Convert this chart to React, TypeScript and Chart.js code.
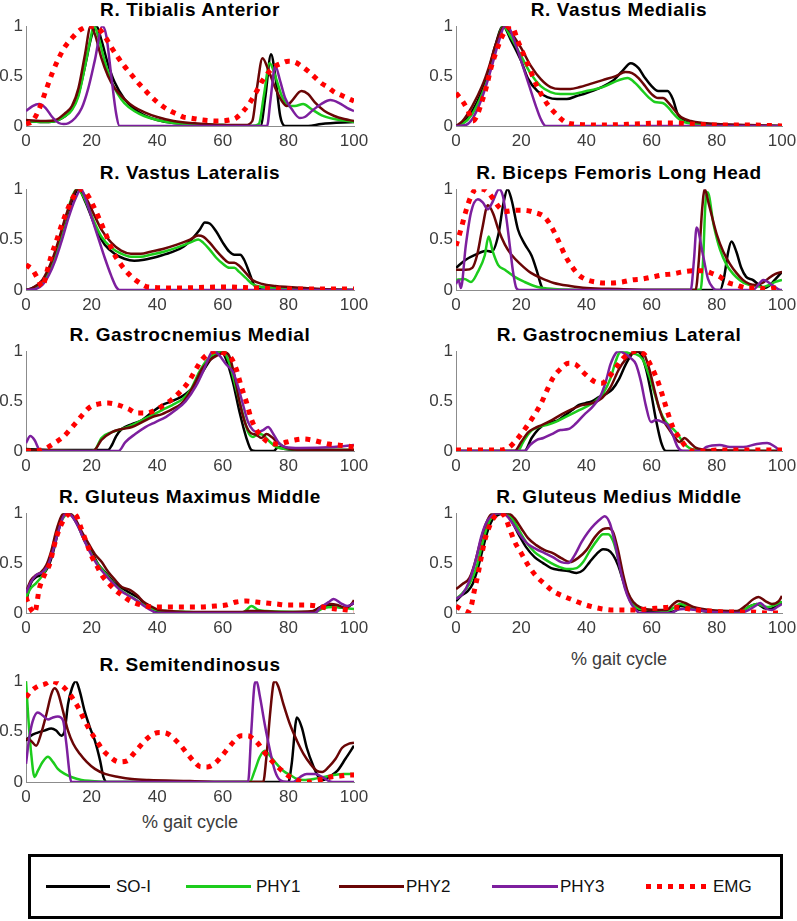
import { useEffect, useRef } from "react";
import { Chart, registerables } from "chart.js";

Chart.register(...registerables);

type Pt = [number, number];

// axis ticks + series names
const X_TICKS = [0, 20, 40, 60, 80, 100];
const Y_TICKS = [0, 0.5, 1];
const SERIES_NAMES = ["SO-I", "PHY1", "PHY2", "PHY3", "EMG"];
const SERIES_COLORS = ["#000000", "#1ccc1c", "#6a0606", "#7d1f9e", "#ff0000"];

// R. Tibialis Anterior
const TA_SOI: Pt[] = [[0,0.05],[6,0.04],[9,0.05],[12,0.1],[14,0.17],[16,0.32],[18,0.6],[20,0.9],[21.5,1],[23,0.86],[25,0.62],[27,0.44],[30,0.27],[33,0.17],[36,0.11],[40,0.06],[45,0.03],[50,0.02],[60,0.01],[68,0],[71.5,0],[73,0.3],[74.7,0.72],[76,0.5],[77.5,0.1],[79,0],[86,0],[90,0.02],[100,0.04]];
const TA_PHY1: Pt[] = [[0,0.05],[6,0.04],[9,0.05],[12,0.1],[14,0.16],[16,0.3],[18,0.6],[19.5,0.85],[20.7,1],[22,0.9],[24,0.65],[26,0.45],[28,0.32],[30,0.23],[33,0.15],[36,0.1],[40,0.06],[45,0.03],[50,0.02],[60,0.01],[69,0],[71,0.02],[72.5,0.3],[74.3,0.63],[76,0.5],[78,0.3],[80,0.2],[82,0.2],[84.5,0.22],[87,0.17],[90,0.11],[94,0.07],[100,0.04]];
const TA_PHY2: Pt[] = [[0,0.06],[6,0.05],[9,0.06],[12,0.13],[14,0.2],[16,0.38],[18,0.72],[19.7,1],[21,0.92],[23,0.68],[25,0.5],[27,0.38],[30,0.27],[33,0.19],[36,0.14],[40,0.09],[45,0.05],[50,0.03],[55,0.02],[60,0.01],[67,0.01],[69,0.05],[70.5,0.4],[72.1,0.68],[74,0.55],[76,0.38],[78,0.25],[79.5,0.2],[81,0.25],[84,0.35],[86,0.32],[88,0.24],[91,0.15],[94,0.1],[97,0.07],[100,0.05]];
const TA_PHY3: Pt[] = [[0,0.15],[2,0.2],[4,0.22],[6,0.18],[8,0.09],[10,0.03],[11.5,0.02],[13,0.03],[15,0.08],[17,0.18],[19,0.38],[21,0.66],[23.3,1],[24.5,0.9],[26,0.5],[27.5,0.12],[28.5,0],[73.5,0],[74.5,0.25],[76,0.6],[77.5,0.45],[79,0.28],[81,0.17],[83.5,0.08],[85,0.09],[87.5,0.16],[90,0.22],[92.8,0.26],[95.5,0.23],[98,0.18],[100,0.15]];
const TA_EMG: Pt[] = [[0,0.02],[2,0.05],[4,0.17],[6,0.35],[8,0.53],[10,0.68],[12,0.8],[14,0.88],[16,0.95],[18,0.99],[20,1],[22,0.98],[24,0.9],[26,0.79],[28,0.69],[30,0.6],[32,0.52],[34,0.44],[36,0.37],[38,0.3],[40,0.24],[42,0.19],[44,0.15],[46,0.12],[48,0.09],[50,0.08],[54,0.06],[58,0.05],[62,0.06],[64,0.08],[66,0.14],[68,0.22],[70,0.33],[72,0.45],[74,0.54],[76,0.6],[78,0.63],[80,0.65],[82,0.64],[84,0.6],[86,0.55],[88,0.49],[90,0.43],[92,0.39],[94,0.34],[96,0.31],[98,0.28],[100,0.25]];

// R. Vastus Medialis
const VM_SOI: Pt[] = [[0,0],[2,0.03],[5,0.15],[8,0.35],[10,0.55],[12,0.8],[14.4,1],[17,0.85],[20,0.65],[22,0.48],[25,0.35],[28,0.29],[31,0.27],[34,0.27],[37,0.3],[40,0.33],[44,0.38],[48,0.45],[51,0.55],[53.6,0.63],[56,0.58],[58,0.48],[60,0.4],[62,0.35],[64.9,0.35],[66.5,0.27],[68,0.12],[70,0.05],[75,0.02],[80,0.01],[100,0]];
const VM_PHY1: Pt[] = [[0,0],[2,0.02],[5,0.12],[8,0.32],[10,0.5],[12,0.75],[14.5,1],[17,0.88],[20,0.7],[23,0.52],[26,0.4],[29,0.34],[32,0.32],[35,0.32],[40,0.35],[45,0.39],[50,0.46],[52.6,0.48],[55,0.43],[57,0.36],[59,0.29],[61,0.24],[63.4,0.23],[65,0.19],[66.5,0.13],[68,0.08],[70,0.04],[75,0.02],[100,0]];
const VM_PHY2: Pt[] = [[0,0],[2,0.05],[5,0.2],[8,0.4],[10,0.58],[12,0.8],[14,0.97],[15,1],[17,0.93],[20,0.78],[23,0.6],[26,0.47],[29,0.39],[32,0.37],[35,0.37],[38,0.39],[41,0.42],[45,0.46],[49,0.5],[52,0.54],[54,0.53],[56,0.48],[58,0.4],[60,0.32],[62,0.28],[63.5,0.28],[65,0.24],[67,0.16],[69,0.09],[72,0.05],[76,0.03],[80,0.02],[90,0.01],[100,0]];
const VM_PHY3: Pt[] = [[0,0],[3,0.01],[5,0.07],[7,0.2],[9,0.38],[11,0.6],[13,0.83],[15,1],[16.5,0.97],[18.5,0.8],[20.5,0.6],[22.5,0.4],[24.5,0.2],[26,0.07],[27.5,0],[100,0]];
const VM_EMG: Pt[] = [[0,0.33],[2,0.25],[3.6,0.16],[5.2,0.05],[6.4,0.1],[7.7,0.22],[9.3,0.39],[10.8,0.59],[12.4,0.75],[13.9,0.88],[15.5,0.97],[17,1],[19,0.85],[22,0.62],[25,0.39],[28,0.22],[31,0.11],[33.5,0.04],[36,0.02],[45,0.01],[55,0.02],[62,0.03],[68,0.03],[72,0.02],[80,0.01],[90,0.01],[100,0]];

// R. Vastus Lateralis
const VL_SOI: Pt[] = [[0,0],[2,0.02],[5,0.08],[8,0.25],[10,0.45],[12,0.68],[14,0.88],[16,1],[18,0.88],[20,0.72],[22,0.56],[24,0.45],[27,0.36],[30,0.31],[33,0.29],[36,0.3],[40,0.33],[44,0.37],[48,0.43],[51,0.52],[53,0.6],[54.5,0.67],[56,0.66],[58,0.58],[60,0.47],[62,0.38],[63.5,0.35],[65.3,0.35],[66.5,0.3],[68,0.18],[69.5,0.05],[71,0.01],[75,0],[100,0]];
const VL_PHY1: Pt[] = [[0,0],[2,0.01],[5,0.07],[8,0.25],[10,0.45],[12,0.7],[14,0.92],[15.5,1],[17,0.96],[19,0.82],[21,0.66],[23,0.53],[26,0.42],[29,0.36],[32,0.33],[35,0.33],[38,0.35],[42,0.38],[46,0.42],[50,0.47],[52.5,0.5],[54,0.47],[56,0.4],[58,0.32],[60,0.26],[62,0.22],[63.5,0.22],[65,0.18],[67,0.12],[69,0.06],[72,0.03],[76,0.02],[80,0.01],[100,0]];
const VL_PHY2: Pt[] = [[0,0],[2,0.02],[5,0.1],[8,0.3],[10,0.5],[12,0.72],[14,0.9],[15.5,1],[17,0.98],[19,0.87],[21,0.73],[23,0.6],[26,0.47],[29,0.39],[32,0.36],[35,0.36],[38,0.38],[42,0.41],[46,0.45],[50,0.5],[52.5,0.54],[54,0.53],[56,0.47],[58,0.39],[60,0.32],[62,0.27],[63.5,0.27],[65,0.24],[67,0.17],[69,0.1],[72,0.06],[76,0.04],[80,0.03],[85,0.02],[90,0.01],[100,0]];
const VL_PHY3: Pt[] = [[0,0],[3,0.01],[5,0.05],[7,0.15],[9,0.3],[11,0.5],[13,0.72],[15,0.9],[16.8,1],[18,0.92],[20,0.72],[22,0.52],[24,0.32],[26,0.14],[27.5,0.03],[28.5,0],[100,0]];
const VL_EMG: Pt[] = [[0,0.25],[2,0.2],[3.6,0.11],[5,0.03],[6.2,0.16],[7.7,0.34],[9.3,0.49],[10.8,0.64],[12.3,0.77],[13.9,0.89],[15.4,0.97],[16.8,1],[18.2,0.97],[20.3,0.85],[22.4,0.7],[24.5,0.54],[26.5,0.38],[29,0.25],[31.6,0.15],[34.2,0.08],[37.2,0.03],[45,0.02],[60,0.03],[70,0.02],[80,0.01],[100,0.01]];

// R. Biceps Femoris Long Head
const BF_SOI: Pt[] = [[0,0.22],[3,0.3],[6,0.35],[9.3,0.39],[11,0.38],[13,0.55],[14.5,0.85],[15.8,1],[17,0.9],[19,0.6],[21,0.46],[23.2,0.34],[24.7,0.2],[26.3,0.03],[27,0],[81,0],[82.2,0.12],[83.5,0.38],[84.5,0.48],[86,0.38],[87.5,0.22],[89,0.13],[91,0.1],[93,0.05],[94.5,0.02],[96,0.04],[97.5,0.09],[100,0.18]];
const BF_PHY1: Pt[] = [[0,0.1],[2.6,0.11],[4.6,0.08],[6.7,0.18],[8.8,0.34],[10,0.53],[11.3,0.38],[12.9,0.25],[15,0.2],[18,0.13],[21,0.08],[25,0.03],[30,0.01],[40,0],[75,0],[75.8,0.3],[76.5,0.85],[77.2,0.97],[79,0.65],[81,0.4],[83,0.25],[85,0.16],[87,0.1],[89,0.06],[92,0.04],[94,0.03],[96,0.05],[98,0.08],[100,0.1]];
const BF_PHY2: Pt[] = [[0,0.2],[3,0.2],[5,0.22],[6.5,0.35],[8,0.6],[9.8,0.84],[11.5,0.75],[13,0.6],[15,0.45],[17,0.35],[20,0.25],[23,0.17],[26,0.12],[30,0.07],[35,0.04],[40,0.02],[50,0.01],[60,0],[73.5,0],[74.5,0.3],[75.5,0.8],[76.3,1],[77.5,0.86],[80,0.55],[82,0.38],[84,0.26],[86,0.17],[88,0.1],[90,0.06],[92,0.05],[94,0.07],[96,0.12],[98,0.16],[100,0.18]];
const BF_PHY3: Pt[] = [[0,0.06],[0.8,0.1],[1.5,0.02],[3,0.44],[4.6,0.77],[6.7,0.9],[8.2,0.87],[9.8,0.8],[11.3,0.88],[13.2,1],[14.4,0.93],[15.5,0.7],[16.5,0.44],[17.5,0.18],[18.5,0.02],[19.5,0],[72,0],[73,0.3],[73.8,0.62],[75.8,0.34],[77.3,0.11],[78.9,0.02],[80,0],[91,0],[94.3,0.1],[97,0.05],[99.5,0],[100,0]];
const BF_EMG: Pt[] = [[0,0.44],[1.5,0.6],[3.1,0.79],[4.6,0.93],[6.2,1],[8.2,1],[9.8,0.97],[11.5,0.9],[13,0.83],[15,0.78],[18,0.79],[21,0.79],[24,0.77],[27.3,0.72],[29.4,0.62],[31.4,0.49],[33.5,0.34],[35.6,0.23],[37.6,0.15],[40.2,0.1],[42.8,0.08],[45.4,0.07],[48,0.07],[51,0.08],[54,0.1],[57.2,0.11],[60.3,0.13],[63.4,0.15],[66.5,0.16],[69.6,0.18],[72.7,0.19],[75.8,0.19],[78.9,0.16],[81,0.13],[83,0.08],[86,0.05],[89.2,0.02],[92.3,0.02],[95.4,0.01],[98.5,0.02],[100,0.02]];

// R. Gastrocnemius Medial
const GM_SOI: Pt[] = [[0,0.02],[10,0.01],[25,0.01],[26.2,0.06],[27.5,0.15],[29.2,0.22],[32.3,0.27],[35.4,0.31],[38.5,0.39],[41.5,0.46],[44.6,0.5],[47.7,0.55],[49.7,0.6],[51.8,0.67],[53.8,0.79],[55.9,0.9],[57.9,0.98],[59.5,1],[61,0.92],[63.1,0.69],[65.1,0.39],[67.2,0.13],[68.7,0.01],[70,0],[75.4,0],[77,0.04],[79,0.02],[85,0.01],[100,0.01]];
const GM_PHY1: Pt[] = [[0,0.01],[20,0],[21,0.01],[23,0.13],[26.2,0.19],[29.2,0.22],[32.3,0.26],[35.4,0.31],[38.5,0.36],[41.5,0.41],[44.6,0.46],[47.7,0.52],[50.3,0.62],[52.8,0.79],[55.4,0.92],[57.9,0.98],[60,1],[62,0.88],[64.1,0.62],[66.2,0.36],[67.7,0.19],[69.2,0.14],[70.8,0.17],[72.3,0.16],[74.4,0.09],[76.4,0.04],[80,0.02],[100,0.01]];
const GM_PHY2: Pt[] = [[0,0.01],[20,0],[21,0.01],[23,0.11],[26.2,0.19],[29.2,0.22],[32.3,0.24],[35.4,0.29],[38.5,0.34],[41.5,0.37],[44.6,0.42],[47.2,0.47],[49.2,0.55],[51.8,0.7],[53.8,0.83],[56.4,0.92],[58.5,0.96],[60.5,0.99],[62,0.95],[63.6,0.75],[65.1,0.49],[66.7,0.29],[68.2,0.19],[70.3,0.16],[71.8,0.13],[73.3,0.17],[74.9,0.14],[76.9,0.08],[79.5,0.03],[85,0.01],[100,0.01]];
const GM_PHY3: Pt[] = [[0,0.08],[1.3,0.15],[2.6,0.11],[4.1,0.01],[5,0],[28.2,0],[30.3,0.09],[33.3,0.17],[36.4,0.24],[39.5,0.29],[42.6,0.34],[45.6,0.41],[48.7,0.5],[51.8,0.65],[54.3,0.82],[56.4,0.98],[57.4,1],[58.9,0.96],[61,0.87],[63.1,0.79],[64.6,0.65],[66.2,0.46],[67.7,0.29],[69.2,0.21],[70.8,0.19],[72.3,0.21],[73.8,0.24],[75.4,0.17],[76.9,0.09],[79,0.04],[83.6,0.03],[93.8,0.04],[100,0.06]];
const GM_EMG: Pt[] = [[0,0],[2.6,0],[5.6,0.02],[8.7,0.08],[11.3,0.14],[13.3,0.21],[15.4,0.29],[17.4,0.37],[19.5,0.44],[22,0.47],[25.1,0.48],[28.2,0.46],[31.3,0.42],[33.8,0.38],[36.4,0.38],[39.5,0.41],[42,0.46],[44.6,0.52],[47.2,0.6],[49.7,0.7],[51.8,0.82],[53.8,0.92],[55.9,0.98],[57.9,1],[60.5,0.98],[62.6,0.93],[64.1,0.82],[65.6,0.65],[67.2,0.49],[68.7,0.32],[70.3,0.21],[72.3,0.13],[74.4,0.08],[76.9,0.07],[79.5,0.09],[82,0.11],[84.6,0.12],[87.2,0.11],[89.7,0.09],[92.3,0.07],[94.9,0.06],[98,0.05],[100,0.04]];

// R. Gastrocnemius Lateral
const GL_SOI: Pt[] = [[0,0],[21,0],[23.2,0.13],[25.3,0.22],[27.3,0.27],[29.4,0.29],[31.4,0.31],[33.5,0.36],[35.6,0.41],[37.6,0.46],[39.7,0.48],[41.8,0.5],[43.8,0.54],[45.9,0.57],[48,0.62],[50,0.72],[52.1,0.87],[54.2,0.98],[55.2,1],[56.7,0.97],[58.3,0.82],[59.8,0.59],[61.3,0.32],[62.9,0.09],[64.4,0],[100,0]];
const GL_PHY1: Pt[] = [[0,0],[19,0],[20.6,0.09],[22.7,0.19],[25.3,0.24],[27.8,0.26],[30.4,0.29],[33.5,0.34],[36.6,0.39],[39.7,0.44],[42.8,0.5],[45.4,0.59],[47.4,0.73],[49,0.9],[50,0.98],[51.2,1],[53.1,0.98],[55.2,0.97],[57.2,0.92],[59.3,0.75],[60.8,0.59],[62.4,0.42],[64.4,0.29],[66,0.24],[67.5,0.19],[69.6,0.09],[71.6,0.03],[75,0.01],[100,0]];
const GL_PHY2: Pt[] = [[0,0],[18,0],[20,0.09],[22.2,0.19],[24.2,0.23],[26.3,0.26],[29.4,0.31],[32.5,0.37],[35.6,0.42],[38.7,0.46],[41.8,0.48],[44.8,0.53],[47.4,0.64],[50,0.82],[52.1,0.92],[54.2,0.98],[56.2,1],[57.7,0.97],[59.3,0.82],[60.8,0.62],[62.4,0.42],[63.9,0.29],[65.5,0.21],[67,0.14],[68.6,0.09],[70.1,0.13],[71.6,0.09],[73.7,0.03],[78,0.01],[100,0]];
const GL_PHY3: Pt[] = [[0,0],[21.1,0],[22.7,0.06],[24.7,0.11],[26.8,0.13],[29.4,0.17],[32,0.21],[34.5,0.22],[36.6,0.27],[39.2,0.36],[41.8,0.44],[44.3,0.55],[45.9,0.69],[47.4,0.87],[49,0.98],[50,1],[51.5,0.98],[53.6,0.93],[55.2,0.87],[56.7,0.7],[58.2,0.46],[59.8,0.29],[61.3,0.31],[63.4,0.29],[64.9,0.26],[66.5,0.16],[68,0.04],[69.6,0],[75,0],[76.8,0.04],[80.9,0.06],[84,0.04],[88.1,0.04],[92.3,0.07],[95.4,0.08],[98,0.04],[99.5,0],[100,0]];
const GL_EMG: Pt[] = [[0,0.01],[5,0.01],[10,0.01],[14,0.01],[16,0.03],[18,0.09],[20,0.17],[22.2,0.27],[24.2,0.37],[26.3,0.49],[27.8,0.6],[29.9,0.74],[32,0.82],[34.5,0.88],[36.6,0.87],[38.7,0.8],[40.7,0.74],[42.8,0.69],[44.8,0.68],[46.9,0.74],[48.9,0.83],[51,0.92],[53.1,0.98],[55.7,1],[57.7,0.97],[60.3,0.82],[61.9,0.7],[63.4,0.55],[64.9,0.39],[66.5,0.24],[68.6,0.13],[70.6,0.04],[72.7,0],[76,0],[80,0.01],[100,0.01]];

// R. Gluteus Maximus Middle
const GMAX_SOI: Pt[] = [[0,0.11],[1.5,0.3],[3.1,0.36],[5.1,0.39],[6.7,0.46],[8.2,0.6],[9.7,0.8],[11.3,0.97],[12.3,1],[13.8,0.98],[15.9,0.87],[17.9,0.72],[20,0.61],[22,0.49],[24.1,0.41],[26.7,0.31],[29.2,0.25],[31.8,0.2],[34.4,0.15],[36.4,0.08],[38.5,0.03],[40.5,0.02],[45,0.01],[50,0],[86,0],[87.7,0.02],[90.8,0.07],[93.8,0.07],[96.9,0.05],[100,0.1]];
const GMAX_PHY1: Pt[] = [[0,0.16],[1.5,0.25],[3.1,0.3],[5.1,0.38],[6.7,0.48],[8.2,0.64],[9.7,0.82],[11.3,0.95],[12.8,0.99],[14.4,0.97],[16.4,0.84],[18.5,0.69],[20.5,0.56],[22.6,0.46],[24.6,0.38],[27.2,0.28],[29.7,0.21],[32.3,0.16],[34.4,0.11],[36.9,0.07],[39.5,0.03],[42.6,0.02],[50,0.01],[60,0],[66,0],[67.2,0.03],[68.7,0.07],[70.8,0.03],[73.3,0.02],[88,0.01],[90.8,0.05],[93.8,0.06],[96.9,0.05],[100,0.04]];
const GMAX_PHY2: Pt[] = [[0,0.21],[1.5,0.33],[3.1,0.38],[4.6,0.41],[6.2,0.48],[7.7,0.62],[9.2,0.82],[10.8,0.97],[11.8,1],[13.3,1],[15.4,0.92],[16.9,0.82],[19,0.7],[21,0.59],[23.1,0.51],[25.1,0.41],[27.2,0.33],[29.2,0.26],[31.8,0.23],[33.8,0.18],[35.9,0.11],[37.9,0.07],[40.5,0.03],[43.6,0.02],[50,0.01],[66,0.01],[67.7,0.02],[70.3,0.02],[78.5,0.01],[87.7,0.02],[90.3,0.07],[92.8,0.09],[94.9,0.08],[97.4,0.05],[99.5,0.1],[100,0.13]];
const GMAX_PHY3: Pt[] = [[0,0.2],[1.5,0.31],[3.1,0.38],[5.1,0.41],[6.7,0.48],[8.2,0.62],[9.7,0.8],[11.3,0.96],[12.5,1],[14,0.97],[16,0.86],[18,0.71],[20,0.58],[22,0.47],[24,0.39],[26.5,0.3],[29,0.22],[31.5,0.17],[34,0.12],[36,0.07],[38.5,0.02],[40,0],[88,0],[89.7,0.05],[92.3,0.11],[93.8,0.14],[95.9,0.1],[97.9,0.07],[100,0.1]];
const GMAX_EMG: Pt[] = [[0,0.16],[1,0.07],[2.6,0],[4.1,0.25],[5.6,0.38],[7.2,0.49],[8.2,0.62],[9.2,0.75],[10.8,0.89],[12.3,0.97],[13.8,1],[15.4,0.97],[16.9,0.84],[18.5,0.7],[20,0.57],[21.5,0.48],[23.1,0.38],[25.1,0.3],[27.2,0.23],[29.2,0.18],[31.3,0.13],[33.3,0.1],[36.4,0.07],[39.5,0.06],[45,0.06],[51.8,0.06],[57.9,0.07],[61,0.08],[64.1,0.11],[67.2,0.12],[70.3,0.11],[73.3,0.1],[76.4,0.09],[79.5,0.08],[85.6,0.08],[88.7,0.07],[91.8,0.05],[94.9,0.04],[97.9,0.03],[100,0.02]];

// R. Gluteus Medius Middle
const GMED_SOI: Pt[] = [[0,0.12],[1.5,0.17],[3.6,0.22],[5.1,0.29],[6.7,0.45],[8.2,0.64],[9.7,0.82],[11.3,0.94],[12.8,0.98],[14.4,1],[15.9,0.97],[17.4,0.9],[19.5,0.77],[21.5,0.66],[24.1,0.56],[26.7,0.5],[29.2,0.45],[31.8,0.43],[34.4,0.42],[37,0.4],[39,0.43],[41,0.51],[43.1,0.59],[45.1,0.64],[46.7,0.63],[48.2,0.58],[49.7,0.48],[51.3,0.32],[52.8,0.17],[54.4,0.07],[56.4,0.03],[60.5,0.02],[65.6,0.01],[67.7,0.03],[68.7,0.07],[70.8,0.06],[73.8,0.03],[78.9,0.01],[87.2,0.01],[89.7,0.06],[92.3,0.09],[94.4,0.05],[96.4,0.04],[98.5,0.07],[100,0.11]];
const GMED_PHY1: Pt[] = [[0,0.14],[2,0.2],[4.1,0.29],[6.2,0.45],[8.2,0.71],[9.7,0.88],[11.3,0.97],[13.3,1],[15.4,1],[17.4,0.94],[19.5,0.82],[21.5,0.71],[24.1,0.61],[26.7,0.55],[29.2,0.5],[31.8,0.46],[34.4,0.44],[37,0.45],[39,0.51],[41,0.62],[43.1,0.72],[45.1,0.79],[46.7,0.79],[48.2,0.72],[49.7,0.55],[51.3,0.33],[52.8,0.19],[54.4,0.09],[56.4,0.04],[60.5,0.03],[64.6,0.02],[67.2,0.06],[68.7,0.09],[70.8,0.07],[73.8,0.04],[78.9,0.02],[87.2,0.01],[89.7,0.06],[92.3,0.09],[95.4,0.06],[100,0.11]];
const GMED_PHY2: Pt[] = [[0,0.24],[2,0.29],[4.1,0.35],[5.6,0.48],[7.2,0.68],[8.7,0.85],[10.3,0.97],[11.8,1],[13.8,1],[15.9,1],[17.9,0.95],[20,0.85],[22.1,0.75],[24.6,0.68],[27.2,0.63],[29.7,0.6],[32.3,0.55],[34.9,0.51],[37.4,0.55],[40,0.63],[42.6,0.76],[45.1,0.84],[46.7,0.85],[48.2,0.81],[49.7,0.63],[51.3,0.38],[52.8,0.2],[54.4,0.11],[56.4,0.06],[60.5,0.03],[64.6,0.03],[66.7,0.09],[68.2,0.12],[70.3,0.1],[72.8,0.06],[77.9,0.03],[86.2,0.02],[88.7,0.07],[91.3,0.14],[92.8,0.16],[94.9,0.12],[96.9,0.09],[99,0.12],[100,0.17]];
const GMED_PHY3: Pt[] = [[0,0.14],[2,0.19],[4.1,0.32],[6.2,0.55],[7.7,0.76],[9.2,0.9],[10.8,0.97],[12.8,1],[14.9,0.99],[16.9,0.92],[19.5,0.79],[22.1,0.69],[24.6,0.64],[27.2,0.6],[29.7,0.56],[32.3,0.51],[34.4,0.5],[36.4,0.58],[38.5,0.71],[40.5,0.81],[42.6,0.89],[44.6,0.95],[45.6,0.97],[47.2,0.9],[48.7,0.71],[50.3,0.45],[51.8,0.25],[53.3,0.12],[54.9,0.04],[56.4,0],[66,0],[67.7,0.03],[69.7,0.04],[73.8,0.03],[78.9,0.01],[87.2,0],[89.7,0.03],[91.8,0.07],[93.3,0.1],[95.4,0.04],[96.9,0.03],[98.5,0.06],[100,0.09]];
const GMED_EMG: Pt[] = [[0,0.07],[1.5,0.04],[3.6,0.01],[4.6,0.06],[5.6,0.22],[6.7,0.38],[7.7,0.55],[8.7,0.71],[9.7,0.82],[11.3,0.94],[13.3,1],[14.9,0.97],[16.4,0.85],[17.9,0.72],[20,0.6],[22.1,0.48],[24.6,0.37],[27.2,0.29],[29.7,0.22],[32.8,0.17],[35.9,0.13],[39,0.09],[42.1,0.06],[45.1,0.04],[48.2,0.03],[55,0.03],[58.5,0.04],[62.6,0.05],[66.7,0.06],[69.8,0.05],[73.8,0.03],[77.9,0.02],[83.1,0.01],[90,0.01],[95.4,0],[100,0]];

// R. Semitendinosus
const ST_SOI: Pt[] = [[0,0.41],[1.5,0.46],[3.6,0.49],[5.6,0.51],[7.7,0.53],[9.2,0.51],[10.8,0.46],[11.8,0.51],[12.8,0.77],[14,0.93],[15.2,1],[16.4,0.9],[17.9,0.7],[19.5,0.54],[21,0.41],[22.6,0.21],[23.6,0.05],[24.6,0],[80,0],[81,0.18],[82.6,0.64],[84.1,0.54],[85.6,0.34],[87.7,0.15],[89.2,0.05],[90.8,0.02],[92.3,0.05],[94.9,0.11],[97.4,0.23],[100,0.36]];
const ST_PHY1: Pt[] = [[0,1],[0.7,0.64],[1.5,0.31],[2.6,0.05],[3.6,0.11],[5.1,0.2],[6.7,0.25],[8.2,0.2],[9.7,0.13],[11.8,0.08],[13.8,0.05],[16.9,0.02],[20,0.01],[25,0],[68.2,0],[69.7,0.11],[71.3,0.25],[72.8,0.31],[74.4,0.26],[76.4,0.18],[78.5,0.11],[80.5,0.07],[82.6,0.03],[84.6,0.02],[87.7,0.03],[90.8,0.05],[93.8,0.07],[96.9,0.08],[100,0.08]];
const ST_PHY2: Pt[] = [[0,0.43],[1.5,0.41],[3.1,0.36],[4.6,0.48],[6.2,0.67],[7.7,0.87],[8.7,0.93],[9.7,0.89],[11.3,0.7],[12.8,0.51],[14.4,0.38],[16.4,0.28],[18.5,0.2],[21,0.13],[24.1,0.08],[28.2,0.05],[32.3,0.03],[37.4,0.02],[50,0.01],[60,0],[72.3,0],[73.3,0.25],[74.4,0.67],[75.4,0.97],[75.9,1],[76.9,0.95],[78.5,0.77],[80.5,0.57],[82.6,0.41],[84.6,0.28],[86.7,0.18],[88.7,0.11],[90.3,0.1],[92.3,0.15],[94.4,0.23],[96.4,0.34],[98.5,0.38],[100,0.39]];
const ST_PHY3: Pt[] = [[0,0.18],[1,0.44],[2,0.6],[3.6,0.69],[5.1,0.66],[6.7,0.62],[8.2,0.64],[9.7,0.65],[11.3,0.61],[12.3,0.38],[13.3,0.08],[13.8,0],[67.7,0],[68.7,0.51],[69.7,0.97],[70.3,1],[71.3,0.85],[72.8,0.57],[74.4,0.31],[75.9,0.11],[77.4,0.02],[79.5,0],[81.5,0],[83.6,0.05],[85.6,0.08],[88.2,0.08],[90.3,0.05],[92.3,0.01],[93.5,0],[100,0]];
const ST_EMG: Pt[] = [[0,0.84],[1.5,0.9],[3.6,0.95],[5.6,0.97],[7.7,1],[9.7,0.98],[11.8,0.93],[13.8,0.85],[15.9,0.74],[17.4,0.64],[19.5,0.51],[21.5,0.41],[23.6,0.31],[25.6,0.25],[28.2,0.2],[30.8,0.21],[32.8,0.28],[34.9,0.36],[36.9,0.43],[39,0.48],[41,0.49],[43.1,0.48],[45.1,0.43],[47.2,0.36],[49.2,0.28],[51.3,0.2],[53.3,0.15],[55.4,0.15],[57.4,0.18],[59.5,0.25],[61.5,0.33],[63.6,0.41],[65.6,0.46],[67.7,0.46],[69.2,0.43],[70.8,0.38],[72.3,0.31],[74.4,0.23],[76.4,0.16],[78.5,0.1],[80.5,0.05],[82.6,0.02],[84.6,0],[86.7,0],[88.7,0.02],[90.8,0.03],[92.8,0.05],[95.9,0.06],[99,0.07],[100,0.07]];

// plot box positions (px) of each column / row
const COL_LEFT = [26, 456];
const COL_RIGHT = [354, 782];
const ROW_TOP = [25, 188, 350, 512, 680];
const ROW_BOTTOM = [126, 290, 451, 613, 782];

const PANELS = [
  { title: "R. Tibialis Anterior", col: 0, row: 0, series: [TA_SOI, TA_PHY1, TA_PHY2, TA_PHY3, TA_EMG] },
  { title: "R. Vastus Medialis", col: 1, row: 0, series: [VM_SOI, VM_PHY1, VM_PHY2, VM_PHY3, VM_EMG] },
  { title: "R. Vastus Lateralis", col: 0, row: 1, series: [VL_SOI, VL_PHY1, VL_PHY2, VL_PHY3, VL_EMG] },
  { title: "R. Biceps Femoris Long Head", col: 1, row: 1, series: [BF_SOI, BF_PHY1, BF_PHY2, BF_PHY3, BF_EMG] },
  { title: "R. Gastrocnemius Medial", col: 0, row: 2, series: [GM_SOI, GM_PHY1, GM_PHY2, GM_PHY3, GM_EMG] },
  { title: "R. Gastrocnemius Lateral", col: 1, row: 2, series: [GL_SOI, GL_PHY1, GL_PHY2, GL_PHY3, GL_EMG] },
  { title: "R. Gluteus Maximus Middle", col: 0, row: 3, series: [GMAX_SOI, GMAX_PHY1, GMAX_PHY2, GMAX_PHY3, GMAX_EMG] },
  { title: "R. Gluteus Medius Middle", col: 1, row: 3, series: [GMED_SOI, GMED_PHY1, GMED_PHY2, GMED_PHY3, GMED_EMG], xLabel: 46 },
  { title: "R. Semitendinosus", col: 0, row: 4, series: [ST_SOI, ST_PHY1, ST_PHY2, ST_PHY3, ST_EMG], xLabel: 40 },
];

const Y_AXIS_W = 34;
const PAD_T = 12;
const PAD_R = 22;
const X_AXIS_H = 30;
const TICK_FONT = { family: "'Liberation Sans', Arial, sans-serif", size: 17 };
const SANS = "'Liberation Sans', Arial, sans-serif";

function Panel({ title, series, left, right, top, bottom, xLabel }: {
  title: string; series: Pt[][]; left: number; right: number; top: number; bottom: number; xLabel?: number;
}) {
  const canvasRef = useRef<HTMLCanvasElement>(null);
  const w = right - left + Y_AXIS_W + PAD_R;
  const h = bottom - top + PAD_T + X_AXIS_H;

  useEffect(() => {
    if (!canvasRef.current) return;
    const chart = new Chart(canvasRef.current, {
      type: "line",
      data: {
        datasets: series.map((pts, i) => ({
          label: SERIES_NAMES[i],
          data: pts.map(([x, y]) => ({ x, y })),
          borderColor: SERIES_COLORS[i],
          borderWidth: i === 4 ? 5 : 2.5,
          borderDash: i === 4 ? [5, 6] : [],
          pointRadius: 0,
          fill: false,
          cubicInterpolationMode: "monotone" as const,
          order: 4 - i, // EMG drawn last, like the matlab plot order
        })),
      },
      options: {
        animation: false,
        responsive: false,
        events: [],
        layout: { padding: { top: PAD_T, right: PAD_R, left: 0, bottom: 0 } },
        plugins: { legend: { display: false }, tooltip: { enabled: false } },
        scales: {
          x: {
            type: "linear",
            min: 0,
            max: 100,
            afterBuildTicks: (s: any) => { s.ticks = X_TICKS.map((v) => ({ value: v })); },
            afterFit: (s: any) => { s.height = X_AXIS_H; },
            grid: { display: true, drawOnChartArea: false, drawTicks: false },
            border: { display: true, color: "#8c8c8c", width: 1 },
            ticks: { color: "#3c3c3c", font: TICK_FONT, padding: 5, maxRotation: 0, autoSkip: false, callback: (v: any) => String(v) },
          },
          y: {
            min: 0,
            max: 1,
            afterBuildTicks: (s: any) => { s.ticks = Y_TICKS.map((v) => ({ value: v })); },
            afterFit: (s: any) => { s.width = Y_AXIS_W; },
            grid: { display: true, drawOnChartArea: false, drawTicks: false },
            border: { display: true, color: "#8c8c8c", width: 1 },
            ticks: { color: "#3c3c3c", font: TICK_FONT, padding: 3, autoSkip: false, callback: (v: any) => String(v) },
          },
        },
      },
    });
    return () => chart.destroy();
  }, []);

  return (
    <>
      <div style={{ position: "absolute", left: left - 20, width: right - left + 40, top: top - 26, height: 22, lineHeight: "22px", textAlign: "center", fontFamily: SANS, fontWeight: "bold", fontSize: 19, letterSpacing: 0.6, color: "#000", whiteSpace: "nowrap" }}>
        {title}
      </div>
      <canvas ref={canvasRef} width={w} height={h} style={{ position: "absolute", left: left - Y_AXIS_W, top: top - PAD_T, width: w, height: h }} />
      {xLabel !== undefined && (
        <div style={{ position: "absolute", left, width: right - left, top: bottom + xLabel - 10, height: 20, lineHeight: "20px", textAlign: "center", fontFamily: SANS, fontSize: 18, color: "#3c3c3c" }}>
          % gait cycle
        </div>
      )}
    </>
  );
}

const LEGEND_ITEMS = [
  { lineLeft: 46, lineRight: 110, textLeft: 116 },
  { lineLeft: 186, lineRight: 251, textLeft: 256 },
  { lineLeft: 339, lineRight: 404, textLeft: 406 },
  { lineLeft: 492, lineRight: 558, textLeft: 560 },
  { lineLeft: 646, lineRight: 710, textLeft: 713 },
];

function Legend() {
  return (
    <div style={{ position: "absolute", left: 28, top: 854, width: 755, height: 65, boxSizing: "border-box", border: "3px solid #000", background: "#fff" }}>
      {LEGEND_ITEMS.map((it, i) => (
        <div key={SERIES_NAMES[i]}>
          <div
            style={{
              position: "absolute",
              left: it.lineLeft - 28 - 3,
              top: 886 - 854 - 3 - (i === 4 ? 2.5 : 1.5),
              width: it.lineRight - it.lineLeft,
              height: i === 4 ? 5 : 3,
              background: i === 4
                ? `repeating-linear-gradient(90deg, ${SERIES_COLORS[i]} 0 5px, transparent 5px 11px)`
                : SERIES_COLORS[i],
            }}
          />
          <div style={{ position: "absolute", left: it.textLeft - 28 - 3, top: 887 - 854 - 3 - 11, height: 22, lineHeight: "22px", fontFamily: SANS, fontSize: 17, color: "#111" }}>
            {SERIES_NAMES[i]}
          </div>
        </div>
      ))}
    </div>
  );
}

export default function App() {
  return (
    <div style={{ position: "absolute", left: 0, top: 0, width: 797, height: 921, background: "#fff", overflow: "hidden" }}>
      {PANELS.map((p) => (
        <Panel
          key={p.title}
          title={p.title}
          series={p.series}
          left={COL_LEFT[p.col]}
          right={COL_RIGHT[p.col]}
          top={ROW_TOP[p.row]}
          bottom={ROW_BOTTOM[p.row]}
          xLabel={p.xLabel}
        />
      ))}
      <Legend />
    </div>
  );
}
